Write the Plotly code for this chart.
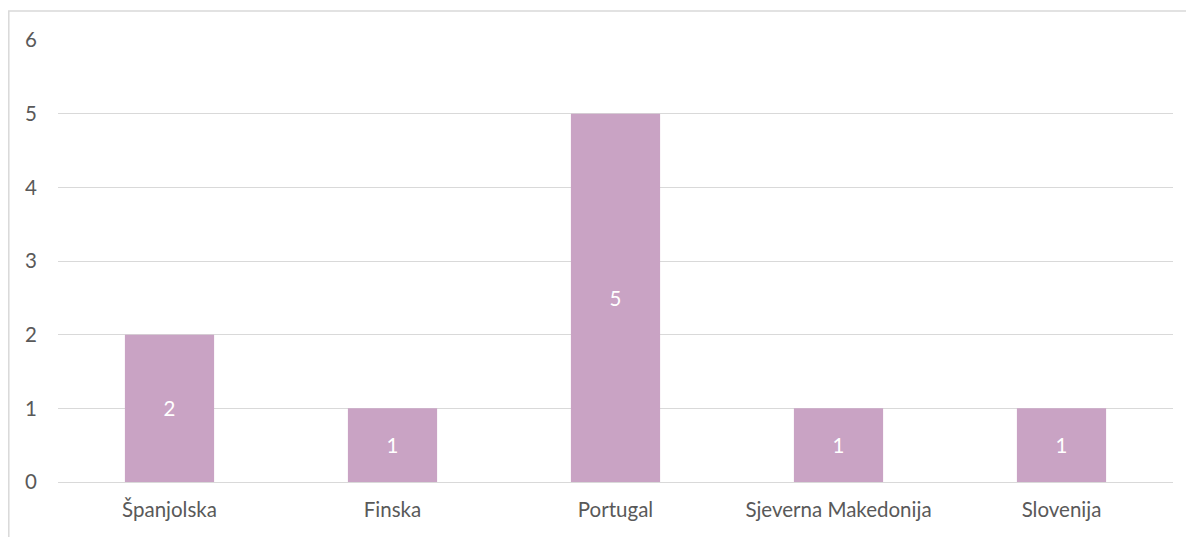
import plotly.graph_objects as go

categories = ["Španjolska", "Finska", "Portugal", "Sjeverna Makedonija", "Slovenija"]
values = [2, 1, 5, 1, 1]
y_ticks = [0, 1, 2, 3, 4, 5, 6]

# page has an 8px body margin; size the figure so the plot lands where the reference has it
W, H = 1186, 529
ML, MR, MT, MB = 50, 21, 32, 55
pw, ph = W - ML - MR, H - MT - MB

FONT = "Lato"
FS = 20.5

fig = go.Figure(go.Bar(
    x=categories, y=values,
    marker=dict(color="#C9A3C4", line=dict(width=0)),
    text=[str(v) for v in values],
    textposition="inside", insidetextanchor="middle",
    textfont=dict(color="white", size=FS, family=FONT),
    hoverinfo="skip",
))

fig.update_layout(
    width=W, height=H,
    margin=dict(l=ML, r=MR, t=MT, b=MB),
    paper_bgcolor="white", plot_bgcolor="white",
    bargap=0.6, showlegend=False,
    font=dict(family=FONT, size=FS, color="#595959"),
    xaxis=dict(showgrid=False, showline=True, linecolor="#D9D9D9", linewidth=1,
               ticks="", ticklabelstandoff=9, tickfont=dict(size=FS, color="#595959")),
    yaxis=dict(range=[0, 6], tickvals=y_ticks, showgrid=True, gridcolor="#D9D9D9",
               gridwidth=1, zeroline=False, showline=False, ticks="",
               ticklabelstandoff=20, tickfont=dict(size=FS, color="#595959")),
    shapes=[dict(type="rect", xref="paper", yref="paper",
                 x0=(0.8 - ML) / pw, x1=(W + 10 - ML) / pw,
                 y0=-(MB + 10) / ph, y1=1 + (MT - 3) / ph,
                 line=dict(color="#D9D9D9", width=1.5), fillcolor="rgba(0,0,0,0)",
                 layer="below")],
)

fig.write_html("out.html")
